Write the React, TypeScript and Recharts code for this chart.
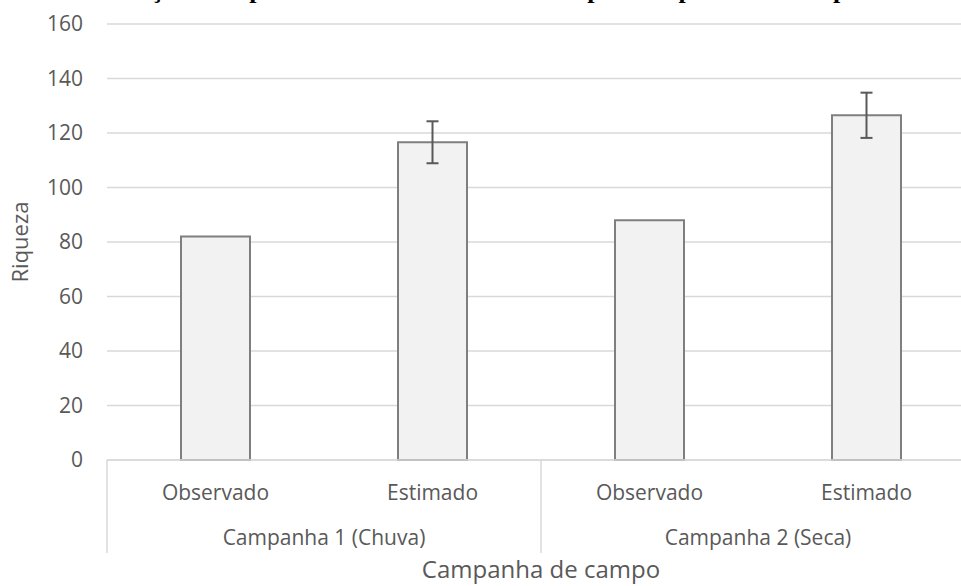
import React from 'react';
import { ComposedChart, Bar, XAxis, YAxis, CartesianGrid, ErrorBar } from 'recharts';

const categories = ['Observado', 'Estimado', 'Observado', 'Estimado'];
const campaigns = ['Campanha 1 (Chuva)', 'Campanha 2 (Seca)'];
const riqueza = [82, 116.6, 88, 126.5];
const erro = [undefined, 7.7, undefined, 8.3];
const yTicks = [0, 20, 40, 60, 80, 100, 120, 140, 160];

const chartData = categories.map((name, i) => ({
  name,
  pos: i + 0.5,
  riqueza: riqueza[i],
  erro: erro[i],
}));

const FONT = '"Open Sans", sans-serif';
const GRID = '#d9d9d9';
const TEXT = '#595959';

const SubTick = (props: any) => {
  const { x, y, payload } = props;
  return (
    <text x={x} y={y + 32} textAnchor="middle" dominantBaseline="central" fontFamily={FONT} fontSize={21} fill={TEXT}>
      {payload.value}
    </text>
  );
};

const GroupTick = (props: any) => {
  const { x, y, payload } = props;
  const v = payload.value;
  if (v % 2 === 0) {
    return <line x1={x} x2={x} y1={y - 60} y2={y + 33} stroke={GRID} strokeWidth={1.5} />;
  }
  return (
    <text x={x} y={y + 17} textAnchor="middle" dominantBaseline="central" fontFamily={FONT} fontSize={21} fill={TEXT}>
      {campaigns[(v - 1) / 2]}
    </text>
  );
};

export default function App() {
  return (
    <div style={{ position: 'absolute', left: 0, top: 0, width: 961, height: 586, overflow: 'hidden', background: '#fff' }}>
      <div
        style={{
          position: 'absolute',
          left: 0,
          top: -23,
          width: 961,
          textAlign: 'center',
          fontFamily: '"Liberation Serif", serif',
          fontWeight: 'bold',
          fontSize: 26,
          lineHeight: '26px',
          whiteSpace: 'nowrap',
          color: '#000',
        }}
      >
        Relação de espécies observadas e estimadas por campanha de campo
      </div>
      <ComposedChart width={990} height={586} data={chartData} margin={{ top: 24, right: 15, left: 0, bottom: 0 }}>
        <CartesianGrid xAxisId="a1" vertical={false} stroke={GRID} strokeWidth={1.5} />
        <XAxis
          xAxisId="a1"
          dataKey="name"
          height={60}
          interval={0}
          axisLine={{ stroke: GRID, strokeWidth: 1.5 }}
          tickLine={false}
          tickSize={0}
          tickMargin={0}
          tick={<SubTick />}
        />
        <XAxis
          xAxisId="b2"
          dataKey="pos"
          type="number"
          domain={[0, 4]}
          ticks={[0, 1, 2, 3, 4]}
          interval={0}
          height={66}
          axisLine={false}
          tickLine={false}
          tickSize={0}
          tickMargin={0}
          tick={<GroupTick />}
          label={{
            value: 'Campanha de campo',
            position: 'insideBottom',
            offset: 8,
            style: { fontFamily: FONT, fontSize: 24, fill: TEXT },
          }}
        />
        <YAxis
          domain={[0, 160]}
          ticks={yTicks}
          width={107}
          axisLine={false}
          tickLine={false}
          tickSize={0}
          tickMargin={24}
          tick={{ fontFamily: FONT, fontSize: 21, fill: TEXT }}
          label={{
            value: 'Riqueza',
            angle: -90,
            position: 'insideLeft',
            offset: 20,
            style: { fontFamily: FONT, fontSize: 22, fill: TEXT, textAnchor: 'middle' },
          }}
        />
        <Bar
          xAxisId="a1"
          dataKey="riqueza"
          barSize={69}
          fill="#f2f2f2"
          stroke="#7f7f7f"
          strokeWidth={2}
          isAnimationActive={false}
        >
          <ErrorBar dataKey="erro" width={6} stroke="#595959" strokeWidth={2} isAnimationActive={false} />
        </Bar>
      </ComposedChart>
    </div>
  );
}
